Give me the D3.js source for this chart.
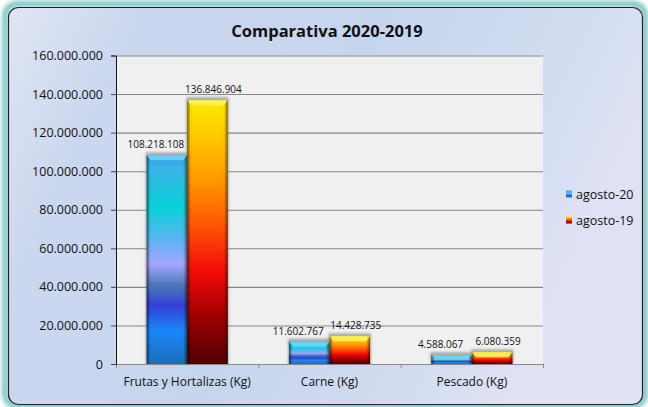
<!DOCTYPE html>
<html>
<head>
<meta charset="utf-8">
<script src="https://cdn.jsdelivr.net/npm/d3@7"></script>
<style>
  html, body { margin: 0; padding: 0; background: #fff; }
  svg { display: block; font-family: "Open Sans", "Noto Sans", sans-serif; }
</style>
</head>
<body>
<div id="chart"></div>
<script>
const categories = ["Frutas y Hortalizas (Kg)", "Carne (Kg)", "Pescado (Kg)"]
const seriesNames = ["agosto-20", "agosto-19"]
const agosto20 = [108218108, 11602767, 4588067]
const agosto19 = [136846904, 14428735, 6080359]
const yTicks = [0, 20000000, 40000000, 60000000, 80000000, 100000000, 120000000, 140000000, 160000000]
const title = "Comparativa 2020-2019"

const width = 648
const height = 407
const margin = {top: 55.5, right: 105, bottom: 43, left: 116}

const locale = d3.formatLocale({decimal: ",", thousands: ".", grouping: [3], currency: ["", ""]})
const fmt = locale.format(",d")

const series = [
  {name: seriesNames[0], values: agosto20, grad: "g20", cap: "#6fdcff", dx: -11},
  {name: seriesNames[1], values: agosto19, grad: "g19", cap: "#fff36a", dx: 6}
]

const svg = d3.select("#chart").append("svg")
  .attr("width", width)
  .attr("height", height)

const defs = svg.append("defs")

// frame background
const bg = defs.append("linearGradient").attr("id", "bg")
  .attr("x1", 0).attr("y1", 0).attr("x2", 1).attr("y2", 0.3)
bg.selectAll("stop")
  .data([[0, "#dfe5f4"], [0.2, "#cbd7ef"], [0.55, "#c6d5ee"], [0.85, "#d3ddf1"], [1, "#dfe2f4"]])
  .join("stop").attr("offset", d => d[0]).attr("stop-color", d => d[1])

const stops20 = [[0, "#2f9fe6"], [0.06, "#3bb4ea"], [0.25, "#08d2d8"], [0.42, "#66b0f4"], [0.52, "#a4a6ff"], [0.62, "#4d7ab8"], [0.72, "#3340d6"], [0.84, "#1b86fb"], [1, "#1a6fb8"]]
const stops19 = [[0, "#ffe800"], [0.08, "#ffd800"], [0.3, "#ff9a00"], [0.5, "#ff4a06"], [0.65, "#f20a0a"], [0.82, "#a00000"], [1, "#4e0000"]]

defs.append("linearGradient").attr("id", "g20")
  .attr("x1", 0).attr("y1", 0).attr("x2", 0).attr("y2", 1)
  .selectAll("stop").data(stops20).join("stop")
  .attr("offset", d => d[0]).attr("stop-color", d => d[1])

defs.append("linearGradient").attr("id", "g19")
  .attr("x1", 0).attr("y1", 0).attr("x2", 0).attr("y2", 1)
  .selectAll("stop").data(stops19).join("stop")
  .attr("offset", d => d[0]).attr("stop-color", d => d[1])

defs.append("linearGradient").attr("id", "bevel")
  .attr("x1", 0).attr("y1", 0).attr("x2", 1).attr("y2", 0)
  .selectAll("stop")
  .data([[0, "rgba(0,0,0,0.55)"], [0.08, "rgba(0,0,0,0.05)"], [0.12, "rgba(0,0,0,0)"], [0.88, "rgba(0,0,0,0)"], [0.92, "rgba(0,0,0,0.05)"], [1, "rgba(0,0,0,0.55)"]])
  .join("stop").attr("offset", d => d[0]).attr("stop-color", d => d[1])

defs.append("filter").attr("id", "blur2")
  .attr("x", "-20%").attr("y", "-20%").attr("width", "140%").attr("height", "140%")
  .append("feGaussianBlur").attr("stdDeviation", 2)

defs.append("filter").attr("id", "blur1")
  .attr("x", "-20%").attr("y", "-50%").attr("width", "140%").attr("height", "200%")
  .append("feGaussianBlur").attr("stdDeviation", 1.2)

// frame
svg.append("rect")
  .attr("x", 5).attr("y", 4).attr("width", 640).attr("height", 402).attr("rx", 12)
  .attr("fill", "none").attr("stroke", "#7cc6c2").attr("stroke-width", 6)
  .attr("filter", "url(#blur2)")

svg.append("rect")
  .attr("x", 8.5).attr("y", 7.5).attr("width", 634).attr("height", 397).attr("rx", 10)
  .attr("fill", "url(#bg)").attr("stroke", "#222").attr("stroke-width", 1.2)

const x = d3.scaleBand()
  .domain(categories)
  .range([margin.left, width - margin.right])

const x1 = d3.scaleBand()
  .domain(seriesNames)
  .range([x.bandwidth() * 0.215, x.bandwidth() * 0.785])

const y = d3.scaleLinear()
  .domain([0, d3.max(yTicks)])
  .range([height - margin.bottom, margin.top])

// plot area
svg.append("rect")
  .attr("x", margin.left).attr("y", margin.top)
  .attr("width", width - margin.right - margin.left)
  .attr("height", y(0) - margin.top)
  .attr("fill", "#f0f0f0")

// grid lines with soft shadow
const grid = svg.append("g")
grid.selectAll("line.shadow")
  .data(yTicks.filter(d => d > 0))
  .join("line").attr("class", "shadow")
  .attr("x1", margin.left).attr("x2", width - margin.right)
  .attr("y1", d => y(d) - 2).attr("y2", d => y(d) - 2)
  .attr("stroke", "#bcbcbc").attr("stroke-width", 3)
  .attr("filter", "url(#blur1)")
grid.selectAll("line.major")
  .data(yTicks.filter(d => d > 0))
  .join("line").attr("class", "major")
  .attr("x1", margin.left).attr("x2", width - margin.right)
  .attr("y1", d => y(d) + 0.5).attr("y2", d => y(d) + 0.5)
  .attr("stroke", "#868686").attr("stroke-width", 1.1)

// bars
const groups = svg.append("g")
  .selectAll("g")
  .data(categories)
  .join("g")
  .attr("transform", d => `translate(${x(d)},0)`)

const barData = (c, i) => series.map(s => ({s, cat: c, value: s.values[i]}))

groups.selectAll("rect.shadow")
  .data(barData)
  .join("rect").attr("class", "shadow")
  .attr("x", d => x1(d.s.name) - 1)
  .attr("y", d => y(d.value) - 3)
  .attr("width", x1.bandwidth() + 2)
  .attr("height", d => y(0) - y(d.value) + 3)
  .attr("fill", "#777").attr("opacity", 0.55)
  .attr("filter", "url(#blur1)")

groups.selectAll("rect.bar")
  .data(barData)
  .join("rect").attr("class", "bar")
  .attr("x", d => x1(d.s.name))
  .attr("y", d => y(d.value))
  .attr("width", x1.bandwidth())
  .attr("height", d => y(0) - y(d.value))
  .attr("fill", d => `url(#${d.s.grad})`)

groups.selectAll("rect.bevel")
  .data(barData)
  .join("rect").attr("class", "bevel")
  .attr("x", d => x1(d.s.name))
  .attr("y", d => y(d.value))
  .attr("width", x1.bandwidth())
  .attr("height", d => y(0) - y(d.value))
  .attr("fill", "url(#bevel)")

groups.selectAll("path.cap")
  .data(barData)
  .join("path").attr("class", "cap")
  .attr("d", d => {
    const x0 = x1(d.s.name), w = x1.bandwidth(), t = y(d.value)
    const h = Math.min(5, (y(0) - t) / 2)
    return `M${x0},${t}H${x0 + w}L${x0 + w - 4},${t + h}H${x0 + 4}Z`
  })
  .attr("fill", d => d.s.cap).attr("opacity", 0.8)

groups.selectAll("text.value")
  .data(barData)
  .join("text").attr("class", "value")
  .attr("x", d => x1(d.s.name) + x1.bandwidth() / 2 + d.s.dx)
  .attr("y", d => y(d.value) - 7)
  .attr("text-anchor", "middle")
  .attr("font-size", 10)
  .attr("fill", "#111")
  .text(d => fmt(d.value))

// axes
const yAxis = g => g
  .attr("transform", `translate(${margin.left},0)`)
  .call(d3.axisLeft(y).tickValues(yTicks).tickFormat(fmt).tickSize(5).tickPadding(8))
  .call(g => g.selectAll("text").attr("font-size", 12.5).attr("fill", "#111"))
  .call(g => g.select(".domain").attr("stroke", "#111"))
  .call(g => g.selectAll(".tick line").attr("stroke", "#444"))

const xAxis = g => g
  .attr("transform", `translate(0,${y(0)})`)
  .call(d3.axisBottom(x).tickSize(0).tickPadding(13))
  .call(g => g.selectAll("text").attr("font-size", 12).attr("fill", "#111"))
  .call(g => g.select(".domain").attr("stroke", "#8a8a8a"))
  .call(g => g.selectAll(".sep")
    .data(x.range().concat(categories.slice(1).map(c => x(c))))
    .join("line").attr("class", "sep")
    .attr("x1", d => d + 0.5).attr("x2", d => d + 0.5)
    .attr("y1", 0).attr("y2", 4)
    .attr("stroke", "#8a8a8a"))

svg.append("g").call(xAxis).attr("font-family", null)
svg.append("g").call(yAxis).attr("font-family", null)

// title
svg.append("text")
  .attr("x", 327).attr("y", 37)
  .attr("text-anchor", "middle")
  .attr("font-size", 16.5)
  .attr("font-weight", "bold")
  .attr("fill", "#111")
  .text(title)

// legend
const legend = svg.append("g")
  .attr("transform", `translate(566,${194})`)
  .selectAll("g")
  .data(series)
  .join("g")
  .attr("transform", (d, i) => `translate(0,${i * 26})`)

legend.append("rect")
  .attr("x", 0).attr("y", -3.5)
  .attr("width", 6).attr("height", 7)
  .attr("fill", d => `url(#${d.grad})`)

legend.append("text")
  .attr("x", 10).attr("y", 4.5)
  .attr("font-size", 12.5)
  .attr("fill", "#111")
  .text(d => d.name)
</script>
</body>
</html>
